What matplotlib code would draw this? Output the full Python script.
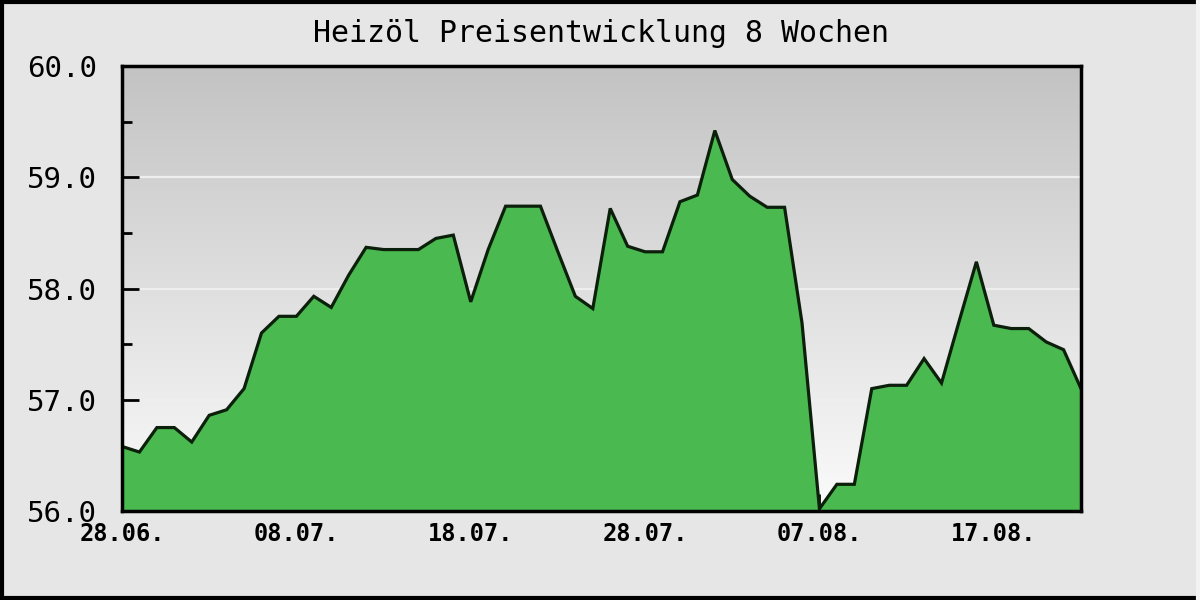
import matplotlib
matplotlib.use("Agg")
import matplotlib.pyplot as plt
import numpy as np
from matplotlib.ticker import MultipleLocator, FixedLocator, FixedFormatter, FormatStrFormatter
from matplotlib.lines import Line2D
from matplotlib.colors import LinearSegmentedColormap

title = "Heizöl Preisentwicklung 8 Wochen"
days = list(range(56))
prices = [56.58, 56.53, 56.75, 56.75, 56.62, 56.86, 56.91, 57.10, 57.60, 57.75,
          57.75, 57.93, 57.83, 58.12, 58.37, 58.35, 58.35, 58.35, 58.45, 58.48,
          57.88, 58.35, 58.74, 58.74, 58.74, 58.33, 57.93, 57.82, 58.72, 58.38,
          58.33, 58.33, 58.78, 58.84, 59.42, 58.98, 58.83, 58.73, 58.73, 57.69,
          56.02, 56.24, 56.24, 57.10, 57.13, 57.13, 57.37, 57.15, 57.70, 58.24,
          57.67, 57.64, 57.64, 57.52, 57.45, 57.10]
tick_days = [0, 10, 20, 30, 40, 50]
tick_labels = ["28.06.", "08.07.", "18.07.", "28.07.", "07.08.", "17.08."]
ymin, ymax = 56.0, 60.0

mono = "DejaVu Sans Mono"
fig = plt.figure(figsize=(12, 6), dpi=100, facecolor="#e6e6e6")
ax = fig.add_axes([122/1200, 1-511/600, (1081-122)/1200, (511-66)/600])

# gradient background
grad = np.linspace(0, 1, 256).reshape(-1, 1)
cmap = LinearSegmentedColormap.from_list("bg", ["#fbfbfb", "#c3c3c3"])
ax.imshow(grad, aspect="auto", cmap=cmap, origin="lower",
          extent=[0, 55, ymin, ymax], zorder=0)

for g in [57, 58, 59]:
    ax.axhline(g, color="#eeeeee", lw=1.6, zorder=1)

ax.fill_between(days, prices, ymin, color="#49b950", zorder=2, lw=0)
ax.plot(days, prices, color="#0b1f0b", lw=2.3, zorder=3, solid_joinstyle="miter")

ax.set_xlim(0, 55)
ax.set_ylim(ymin, ymax)

ax.xaxis.set_major_locator(FixedLocator(tick_days))
ax.xaxis.set_major_formatter(FixedFormatter(tick_labels))
ax.xaxis.set_minor_locator(MultipleLocator(5))
ax.yaxis.set_major_locator(MultipleLocator(1))
ax.yaxis.set_major_formatter(FormatStrFormatter("%.1f"))
ax.yaxis.set_minor_locator(MultipleLocator(0.5))

ax.tick_params(axis="both", which="major", direction="in", length=12, width=2, color="#000000")
ax.tick_params(axis="both", which="minor", direction="in", length=7, width=2, color="#000000")
ax.tick_params(axis="y", which="major", pad=18, labelsize=21)
ax.tick_params(axis="x", which="major", pad=8, labelsize=17)
for lab in ax.get_yticklabels():
    lab.set_fontfamily(mono)
    lab.set_color("#000000")
for lab in ax.get_xticklabels():
    lab.set_fontfamily(mono)
    lab.set_fontweight("bold")
    lab.set_color("#000000")

for s in ax.spines.values():
    s.set_linewidth(2.5)
    s.set_color("#000000")
    s.set_zorder(5)

fig.text(0.501, 1-33/600, title, ha="center", va="center", fontsize=21.5,
         family=mono, color="#000000")

# figure border
fig.add_artist(Line2D([0.002, 0.002], [0, 1], transform=fig.transFigure, color="black", lw=3))
fig.add_artist(Line2D([0, 1], [0.997, 0.997], transform=fig.transFigure, color="black", lw=3))
fig.add_artist(Line2D([0, 1], [0.004, 0.004], transform=fig.transFigure, color="black", lw=3))
fig.add_artist(Line2D([0.998, 0.998], [0, 1], transform=fig.transFigure, color="#f2f2f2", lw=3))

fig.savefig("out.png", dpi=100, facecolor=fig.get_facecolor())
